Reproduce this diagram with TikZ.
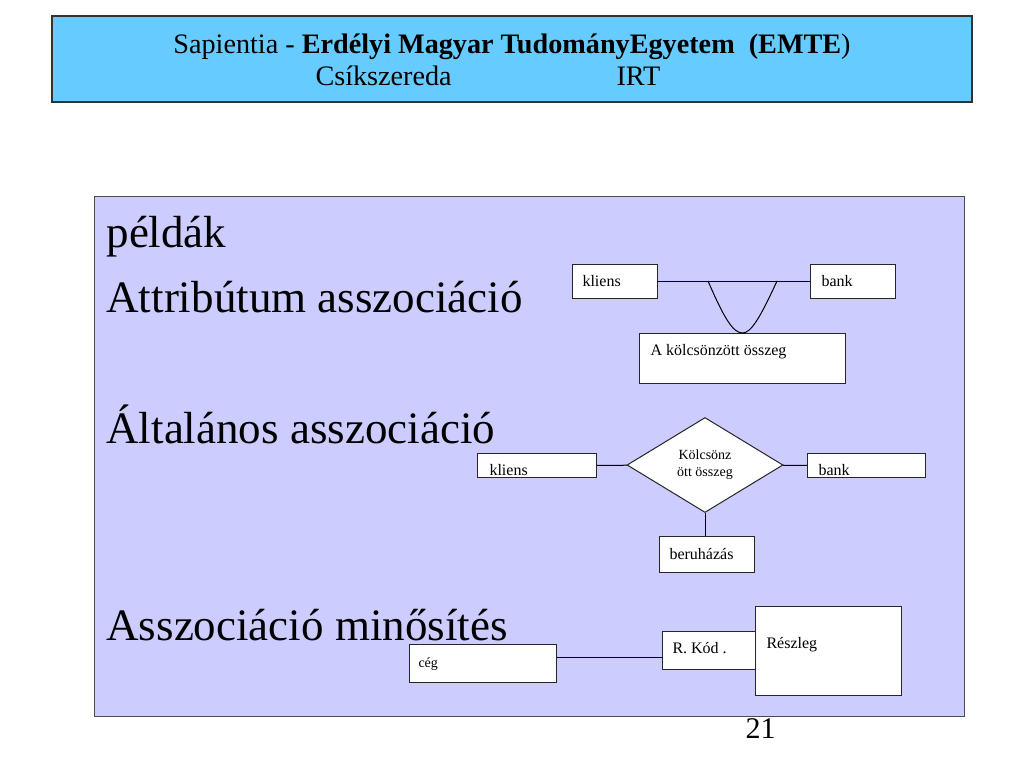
\documentclass[tikz,border=0pt]{standalone}
\usepackage{fontspec}
\setmainfont{Liberation Serif}
\usetikzlibrary{shapes.geometric}
\definecolor{fejkek}{HTML}{66CCFF}
\definecolor{lila}{HTML}{CCCCFF}

\begin{document}
\begin{tikzpicture}[x=1pt,y=-1pt,line width=1pt,
  egyed/.style={rectangle,draw=black!85,fill=white,anchor=north west,inner sep=0pt},
  felirat/.style={anchor=base west,inner sep=0pt,font=\fontsize{16}{19}\selectfont},
  cim/.style={anchor=base west,inner sep=0pt,font=\fontsize{45}{50}\selectfont},
  fej/.style={anchor=base west,inner sep=0pt,font=\fontsize{28.2}{32}\selectfont}]

\useasboundingbox (0,0) rectangle (1024,768);

\draw[fill=fejkek,draw=black!80,line width=1.3pt] (52,16) rectangle (972,102);
\node[fej,anchor=base] (fej1) at (512,53) {Sapientia - \textbf{Erdélyi Magyar TudományEgyetem\ \ (EMTE})};
\node[fej] (varos) at (315,85) {Csíkszereda};
\node[fej] (irt) at (616,85) {IRT};

\draw[fill=lila,draw=black!70] (94,196) rectangle (964,716);
\node[cim] (peldak) at (106,247) {példák};
\node[cim] (attrasz) at (106,312) {Attribútum asszociáció};
\node[cim] (altasz) at (106,443) {Általános asszociáció};
\node[cim] (minosit) at (106,640) {Asszociáció minősítés};
\node[anchor=base west,inner sep=0pt,font=\fontsize{30}{34}\selectfont] (oldal) at (745,738) {21};

\node[egyed,minimum width=85,minimum height=34] (kliens1) at (572,264) {};
\node[felirat] (kliens1t) at (582,286) {kliens};
\node[egyed,minimum width=85,minimum height=34] (bank1) at (810,264) {};
\node[felirat] (bank1t) at (821,286) {bank};
\node[egyed,minimum width=206,minimum height=50] (osszeg) at (639,333) {};
\node[felirat] (osszegt) at (650,355) {A kölcsönzött összeg};
\coordinate (ubal) at (708,281);
\coordinate (ujobb) at (777,281);
\draw (kliens1) -- (bank1);
\draw (ubal) .. controls (724,318) and (733,333) .. (osszeg.north)
      .. controls (751,333) and (760,318) .. (ujobb);

\node[diamond,draw=black!85,fill=white,minimum width=156,minimum height=95,inner sep=0pt,
      align=center,font=\fontsize{14}{17}\selectfont] (kolcson) at (705,465) {Kölcsönz\\ött összeg};
\node[egyed,minimum width=119,minimum height=24] (kliens2) at (477,453) {};
\node[felirat] (kliens2t) at (489,475) {kliens};
\node[egyed,minimum width=118,minimum height=24] (bank2) at (807,453) {};
\node[felirat] (bank2t) at (818,475) {bank};
\node[egyed,minimum width=95,minimum height=36] (beruh) at (659,536) {};
\node[felirat] (beruht) at (669,559) {beruházás};
\draw (kliens2) -- (kolcson);
\draw (kolcson) -- (bank2);
\draw (kolcson.south) -- (kolcson.south |- beruh.north);

\node[egyed,minimum width=147,minimum height=38] (ceg) at (409,644) {};
\node[felirat,font=\fontsize{14}{17}\selectfont] (cegt) at (418,667) {cég};
\node[egyed,minimum width=146,minimum height=89] (reszleg) at (755,606) {};
\node[felirat] (reszlegt) at (766,648) {Részleg};
\node[egyed,minimum width=93,minimum height=38] (rkod) at (662,631) {};
\node[felirat] (rkodt) at (672,653) {R. Kód .};
\draw ([yshift=6pt]ceg.east) -- ([yshift=-7pt]rkod.west);
\end{tikzpicture}
\end{document}
